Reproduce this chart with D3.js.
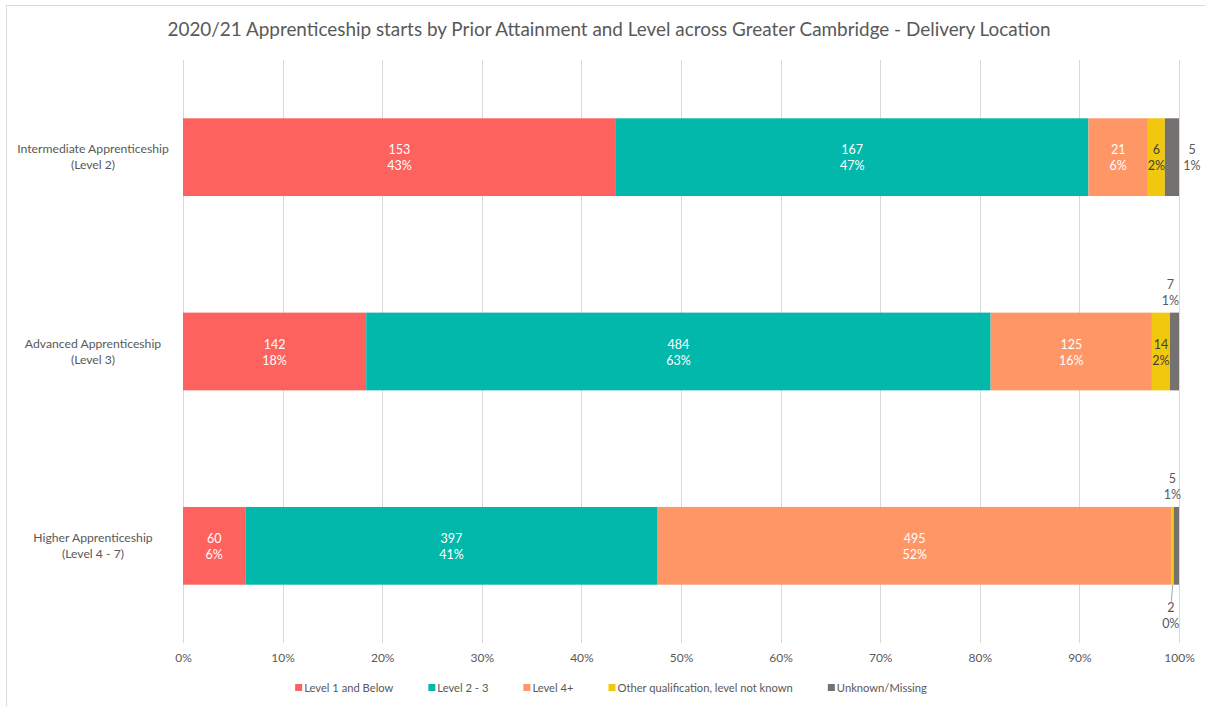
<!DOCTYPE html>
<html>
<head>
<meta charset="utf-8">
<script src="https://cdn.jsdelivr.net/npm/d3@7"></script>
<style>
  html, body { margin: 0; padding: 0; background: #fff; }
  svg { display: block; font-family: Lato, "Open Sans", sans-serif; }
</style>
</head>
<body>
<svg id="chart" width="1205" height="706"></svg>
<script>
// ---- data ----
const title = "2020/21 Apprenticeship starts by Prior Attainment and Level across Greater Cambridge - Delivery Location";
const categories = [
  ["Intermediate Apprenticeship", "(Level 2)"],
  ["Advanced Apprenticeship", "(Level 3)"],
  ["Higher Apprenticeship", "(Level 4 - 7)"]
];
const seriesNames = ["Level 1 and Below", "Level 2 - 3", "Level 4+", "Other qualification, level not known", "Unknown/Missing"];
const level1Below = [153, 142, 60];
const level2to3   = [167, 484, 397];
const level4plus  = [21, 125, 495];
const otherQual   = [6, 14, 2];
const unknownMiss = [5, 7, 5];
const tickValues  = [0, 0.1, 0.2, 0.3, 0.4, 0.5, 0.6, 0.7, 0.8, 0.9, 1.0];

// ---- style ----
const colors = ["#FD625E", "#01B8AA", "#FE9666", "#F2C80F", "#767171"];
const labelColors = ["#ffffff", "#ffffff", "#ffffff", "#404040", "#595959"];
// label placement overrides: "in" (default), "right", "above", "below"
const placement = { "0-4": "right", "1-4": "above", "2-3": "below", "2-4": "above" };

const svg = d3.select("#chart");
const textColor = "#595959";

// outer border
svg.append("rect").attr("x", 6.5).attr("y", 5.5).attr("width", 1220).attr("height", 720)
  .attr("fill", "none").attr("stroke", "#d9d9d9");

// title
svg.append("text").attr("x", 609).attr("y", 36).attr("text-anchor", "middle")
  .attr("fill", textColor).attr("font-size", 18.9).text(title);

const plot = { left: 183, right: 1179, top: 60, bottom: 643 };
const x = d3.scaleLinear().domain([0, 1]).range([plot.left, plot.right]);
const y = d3.scaleBand().domain(d3.range(categories.length))
  .range([plot.top, plot.bottom]).paddingInner(0.6).paddingOuter(0.3);

// gridlines
svg.append("g").selectAll("line").data(tickValues).join("line")
  .attr("x1", d => Math.round(x(d)) + 0.5).attr("x2", d => Math.round(x(d)) + 0.5)
  .attr("y1", plot.top).attr("y2", plot.bottom)
  .attr("stroke", "#d9d9d9").attr("stroke-width", 1);

// x axis labels
const xAxis = d3.axisBottom(x).tickValues(tickValues).tickFormat(d3.format(".0%")).tickSize(0).tickPadding(0);
const gx = svg.append("g").attr("transform", `translate(0, ${plot.bottom + 10})`).call(xAxis);
gx.select(".domain").remove();
gx.selectAll("text").attr("fill", textColor).attr("font-size", 12).attr("font-family", "Lato, sans-serif");

// category labels
const catG = svg.append("g");
categories.forEach((lines, i) => {
  const cy = y(i) + y.bandwidth() / 2;
  const t = catG.append("text").attr("text-anchor", "middle").attr("fill", textColor).attr("font-size", 12.2);
  lines.forEach((ln, j) => {
    t.append("tspan").attr("x", 93).attr("y", cy - 4 + j * 16).text(ln);
  });
});

// stacked data
const seriesVals = [level1Below, level2to3, level4plus, otherQual, unknownMiss];
const rows = categories.map((c, i) => {
  const vals = seriesVals.map(s => s[i]);
  const total = d3.sum(vals);
  let acc = 0;
  return vals.map((v, k) => {
    const seg = { cat: i, k, v, total, x0: acc / total, x1: (acc + v) / total };
    acc += v;
    return seg;
  });
});
const segs = rows.flat();

svg.append("g").selectAll("rect").data(segs).join("rect")
  .attr("x", d => x(d.x0)).attr("width", d => x(d.x1) - x(d.x0))
  .attr("y", d => y(d.cat)).attr("height", y.bandwidth())
  .attr("fill", d => colors[d.k]);

// labels
const lblG = svg.append("g").attr("font-size", 12.5);
segs.forEach(d => {
  const pos = placement[`${d.cat}-${d.k}`] || "in";
  const pct = d3.format(".0%")(d.v / d.total);
  const cx = (x(d.x0) + x(d.x1)) / 2;
  const top = y(d.cat), bot = y(d.cat) + y.bandwidth();
  const cy = top + y.bandwidth() / 2;
  let tx = cx, ty1, fill = labelColors[d.k];
  if (pos === "in") { ty1 = cy - 3; }
  else if (pos === "right") { tx = x(d.x1) + 13; ty1 = cy - 3; fill = textColor; }
  else if (pos === "above") { tx = cx - 4; ty1 = top - 24; fill = textColor; }
  else if (pos === "below") {
    tx = cx - 2; ty1 = bot + 27; fill = textColor;
    lblG.append("line").attr("x1", cx).attr("y1", bot).attr("x2", cx - 1.5).attr("y2", bot + 17)
      .attr("stroke", "#a6a6a6").attr("stroke-width", 1);
  }
  const t = lblG.append("text").attr("text-anchor", "middle").attr("fill", fill);
  t.append("tspan").attr("x", tx).attr("y", ty1).text(d.v);
  t.append("tspan").attr("x", tx).attr("y", ty1 + 16).text(pct);
});

// legend
const legG = svg.append("g").attr("font-size", 11.2);
const legY = 688;
const items = [];
seriesNames.forEach((n, k) => {
  const g = legG.append("g");
  g.append("rect").attr("x", 0).attr("y", -4).attr("width", 7).attr("height", 7).attr("fill", colors[k]);
  const t = g.append("text").attr("x", 9).attr("y", 4).attr("fill", textColor).text(n);
  const w = 9 + t.node().getComputedTextLength();
  items.push({ g, w });
});
const gap = 35;
const totalW = d3.sum(items, d => d.w) + gap * (items.length - 1);
let lx = 611 - totalW / 2;
items.forEach(it => {
  it.g.attr("transform", `translate(${lx}, ${legY})`);
  lx += it.w + gap;
});
</script>
</body>
</html>
